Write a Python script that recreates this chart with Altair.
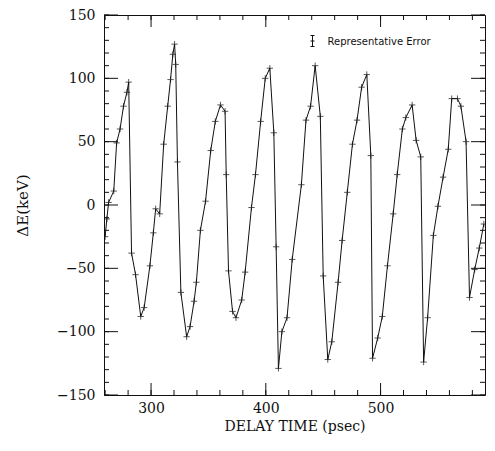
import altair as alt
import pandas as pd

# ---- data ----
delay_ps = [260, 261.5, 263, 267.5, 270, 273, 276, 279, 280.5, 283, 286.5, 291, 294, 299,
            302, 304, 307.5, 311, 314.5, 317, 319, 320.5, 321.5, 323, 326, 331, 334, 337.5,
            339.5, 343, 347.5, 352, 356, 360.5, 364.5, 365.5, 367.5, 371, 374, 379, 382,
            387.5, 391, 395.5, 399.5, 403.5, 407, 409, 411, 414, 418.5, 423, 431, 435, 439,
            443, 447.5, 450, 454, 457.5, 463, 466.5, 471, 475.5, 479.5, 483.5, 488, 491.5,
            493, 497.5, 501.5, 506, 511, 514.5, 519, 522, 527.5, 531, 535, 537.5, 541, 546,
            550, 554.5, 559, 562, 567, 570, 574.5, 577.5, 582, 586, 590]
delta_e = [-25, -11, 2, 11, 49, 60, 78, 89, 97, -38, -55, -88, -81, -48,
           -22, -3, -7, 48, 78, 99, 119, 127, 111, 34, -69, -104, -96, -76,
           -61, -20, 3, 43, 66, 79, 74, 24, -52, -84, -89, -75, -53,
           -2, 24, 66, 100, 108, 57, -33, -129, -100, -89, -43, 16, 67, 78,
           110, 70, -56, -122, -108, -61, -28, 10, 48, 67, 93, 103, 39,
           -121, -105, -88, -48, -7, 24, 60, 69, 79, 51, 38, -124, -89, -24,
           -1, 22, 44, 84, 84, 78, 50, -73, -51, -34, -15]

x_tick_labels = [300, 400, 500]
x_minor_ticks = list(range(260, 591, 20))
y_tick_labels = [-150, -100, -50, 0, 50, 100, 150]
y_minor_ticks = list(range(-150, 151, 10))
legend_label = ["Representative Error"]

W, H = 381, 380
X_DOM = [259, 591]
Y_DOM = [-150, 150]
SERIF = "DejaVu Serif"
INK = "#111111"

df = pd.DataFrame({"t": delay_ps, "e": delta_e})
xs = alt.Scale(domain=X_DOM, nice=False, zero=False)
ys = alt.Scale(domain=Y_DOM, nice=False, zero=False)
x_axis = alt.Axis(values=x_tick_labels, title="DELAY TIME (psec)", ticks=False,
                  domain=False, grid=False, labelPadding=6, titlePadding=4,
                  titleFontSize=14)
y_axis = alt.Axis(values=y_tick_labels, title="ΔE(keV)", ticks=False,
                  domain=False, grid=False, labelPadding=9, titlePadding=26)

def X(f):
    return alt.X(f, scale=xs, axis=x_axis)

def Y(f):
    return alt.Y(f, scale=ys, axis=y_axis)

xmaj = pd.DataFrame({"v": x_tick_labels})
xmin = pd.DataFrame({"v": x_minor_ticks})
ymaj = pd.DataFrame({"v": y_tick_labels})
ymin = pd.DataFrame({"v": y_minor_ticks})

line = alt.Chart(df).mark_line(color=INK, strokeWidth=1, clip=True).encode(
    x=X("t:Q"), y=Y("e:Q"))
pts = alt.Chart(df).mark_point(shape="M-1,0L1,0M0,-1L0,1", size=40, filled=False,
                               color=INK, strokeWidth=1, clip=True).encode(
    x=X("t:Q"), y=Y("e:Q"))

def yticks(d, length):
    left = alt.Chart(d).mark_rule(color=INK, strokeWidth=1).encode(
        y=Y("v:Q"), x=alt.value(0), x2=alt.value(length))
    right = alt.Chart(d).mark_rule(color=INK, strokeWidth=1).encode(
        y=Y("v:Q"), x=alt.value(W), x2=alt.value(W - length))
    return [left, right]

def xticks(d, length):
    bottom = alt.Chart(d).mark_rule(color=INK, strokeWidth=1).encode(
        x=X("v:Q"), y=alt.value(H), y2=alt.value(H - length))
    top = alt.Chart(d).mark_rule(color=INK, strokeWidth=1).encode(
        x=X("v:Q"), y=alt.value(0), y2=alt.value(length))
    return [bottom, top]

leg = pd.DataFrame({"label": legend_label})
EX = 208.5
EY = 26
err_bar = alt.Chart(leg).mark_rule(color=INK, strokeWidth=1).encode(
    x=alt.value(EX), y=alt.value(EY - 5.5), y2=alt.value(EY + 5.5))
caps = [
    alt.Chart(leg).mark_rule(color=INK, strokeWidth=1).encode(
        x=alt.value(EX - 2), x2=alt.value(EX + 2), y=alt.value(yy))
    for yy in (EY - 5.5, EY, EY + 5.5)
]
err_text = alt.Chart(leg).mark_text(align="left", baseline="middle", font="DejaVu Sans",
                                    fontSize=10, color=INK).encode(
    x=alt.value(EX + 15), y=alt.value(EY + 0.5), text="label:N")

layers = [line, pts] + yticks(ymaj, 14) + yticks(ymin, 5) + xticks(xmaj, 12) \
    + xticks(xmin, 5) + [err_bar] + caps + [err_text]

chart = alt.layer(*layers).properties(
    width=W, height=H,
    autosize=alt.AutoSizeParams(type="none"),
    padding={"left": 96, "top": 7, "right": 2, "bottom": 43},
).configure_view(
    stroke=INK, strokeWidth=1
).configure_axis(
    labelFont=SERIF, labelFontSize=14, labelColor=INK,
    titleFont=SERIF, titleFontSize=15, titleFontWeight="normal", titleColor=INK,
)

chart.save("out.html", embed_options={"renderer": "svg", "actions": False})
